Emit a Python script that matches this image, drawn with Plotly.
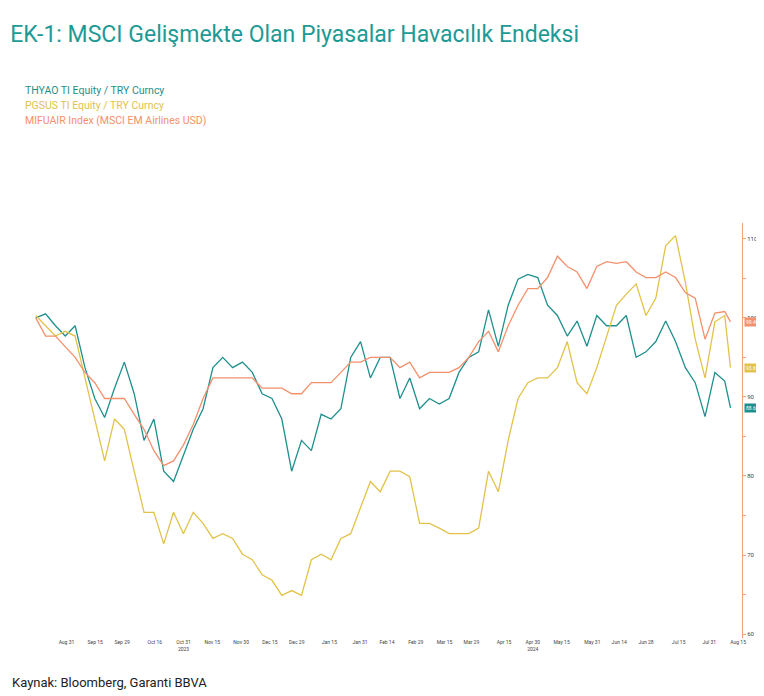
import pandas as pd
import plotly.graph_objects as go

# --- data ---
dates = list(pd.date_range("2023-08-15", "2024-08-08", periods=71)) + [pd.Timestamp("2024-08-11")]

thyao = [100.0, 100.5, 99.0, 97.7, 99.0, 93.7, 89.8, 87.4, 91.1, 94.4, 90.4, 84.5, 87.2, 80.6, 79.3,
         82.6, 85.9, 88.5, 93.7, 95.0, 93.7, 94.4, 93.1, 90.4, 89.8, 87.2, 80.6, 84.5, 83.2, 87.8,
         87.2, 88.5, 95.0, 97.0, 92.4, 95.0, 95.0, 89.8, 92.4, 88.5, 89.8, 89.1, 89.8, 93.1, 95.0,
         95.7, 101.0, 96.4, 101.6, 104.9, 105.5, 105.1, 101.6, 100.3, 97.7, 99.6, 96.4, 100.3, 99.0,
         99.0, 100.3, 95.0, 95.7, 97.0, 99.6, 97.0, 93.7, 91.8, 87.5, 93.1, 92.0, 88.6]
pgsus = [100.3, 99.0, 97.7, 98.3, 97.7, 92.4, 87.2, 81.9, 87.2, 85.9, 80.6, 75.4, 75.4, 71.4, 75.4,
         72.7, 75.4, 74.0, 72.1, 72.7, 72.1, 70.1, 69.4, 67.5, 66.8, 64.9, 65.5, 64.9, 69.4, 70.1,
         69.4, 72.1, 72.7, 76.0, 79.3, 78.0, 80.6, 80.6, 79.9, 74.0, 74.0, 73.4, 72.7, 72.7, 72.7,
         73.4, 80.6, 78.0, 84.5, 89.8, 91.8, 92.4, 92.4, 93.7, 97.0, 91.8, 90.4, 93.7, 97.7, 101.6,
         103.0, 104.3, 100.3, 102.5, 109.1, 110.4, 104.5, 97.3, 92.4, 99.5, 100.3, 93.7]
mifuair = [100.0, 97.7, 97.7, 96.4, 95.0, 93.1, 91.8, 89.8, 89.8, 89.8, 87.8, 85.9, 83.2, 81.3, 81.9,
           83.9, 86.5, 89.8, 92.4, 92.4, 92.4, 92.4, 92.4, 91.1, 91.1, 91.1, 90.4, 90.4, 91.8, 91.8,
           91.8, 93.1, 94.4, 94.4, 95.0, 95.0, 95.0, 93.7, 94.4, 92.4, 93.1, 93.1, 93.1, 93.7, 95.0,
           97.0, 98.3, 95.7, 99.0, 101.6, 103.7, 103.7, 105.1, 107.8, 106.5, 105.8, 103.7, 106.5, 107.1,
           106.9, 107.1, 105.8, 105.1, 105.1, 105.8, 105.1, 103.2, 102.5, 97.3, 100.6, 100.8, 99.5]

series = [("THYAO TI Equity / TRY Curncy", thyao, "#1e8f8c", "88.6076"),
          ("PGSUS TI Equity / TRY Curncy", pgsus, "#e2c24a", "93.6976"),
          ("MIFUAIR Index (MSCI EM Airlines USD)", mifuair, "#f4906c", "99.4248")]

tick_dates = ["2023-08-31", "2023-09-15", "2023-09-29", "2023-10-16", "2023-10-31", "2023-11-15",
              "2023-11-30", "2023-12-15", "2023-12-29", "2024-01-15", "2024-01-31", "2024-02-14",
              "2024-02-29", "2024-03-15", "2024-03-29", "2024-04-15", "2024-04-30", "2024-05-15",
              "2024-05-31", "2024-06-14", "2024-06-28", "2024-07-15", "2024-07-31", "2024-08-15"]
tick_text = [pd.Timestamp(d).strftime("%b %d").replace(" 0", " ") for d in tick_dates]
tick_text[4] += "<br>2023"
tick_text[16] += "<br>2024"

fig = go.Figure()
for name, vals, col, _ in series:
    fig.add_trace(go.Scatter(x=dates, y=vals, name=name, mode="lines",
                             line=dict(color=col, width=1.3), showlegend=False))

# legend as coloured text
for i, (name, vals, col, lab) in enumerate(series):
    fig.add_annotation(text=name, xref="paper", yref="paper", x=-0.01, y=1.0 + (141 - 15 * i) / 415,
                       xanchor="left", showarrow=False, font=dict(size=10.5, color=col))
    fig.add_annotation(text=lab, xref="paper", yref="y", x=1.0, xshift=2, y=vals[-1], xanchor="left",
                       showarrow=False, bgcolor=col, font=dict(size=5, color="white"),
                       borderpad=1)

fig.add_annotation(text="Kaynak: Bloomberg, Garanti BBVA", xref="paper", yref="paper",
                   x=-0.028, y=-0.13, xanchor="left", showarrow=False,
                   font=dict(size=13, color="#222"))

fig.update_layout(
    width=764, height=696,
    margin=dict(l=22, r=30, t=215, b=66),
    paper_bgcolor="white", plot_bgcolor="white",
    font=dict(family="Roboto, sans-serif"),
    title=dict(text="EK-1: MSCI Gelişmekte Olan Piyasalar Havacılık Endeksi", x=0.003, xanchor="left",
               y=0.975, font=dict(size=23, color="#1e9a95")),
    xaxis=dict(tickvals=tick_dates, ticktext=tick_text, tickfont=dict(size=5, color="#444"),
               showgrid=False, ticks="", range=["2023-08-12", "2024-08-17"]),
    yaxis=dict(side="right", range=[59.5, 112], tickvals=[60, 65, 70, 75, 80, 85, 90, 95, 100, 105, 110],
               ticktext=["60", "", "70", "", "80", "", "90", "", "100", "", "110"],
               tickfont=dict(size=6, color="#444"), showgrid=False, showline=True,
               linecolor="#f4a080", ticks="outside", ticklen=3, tickcolor="#f4a080"),
)

fig.write_html("out.html")
